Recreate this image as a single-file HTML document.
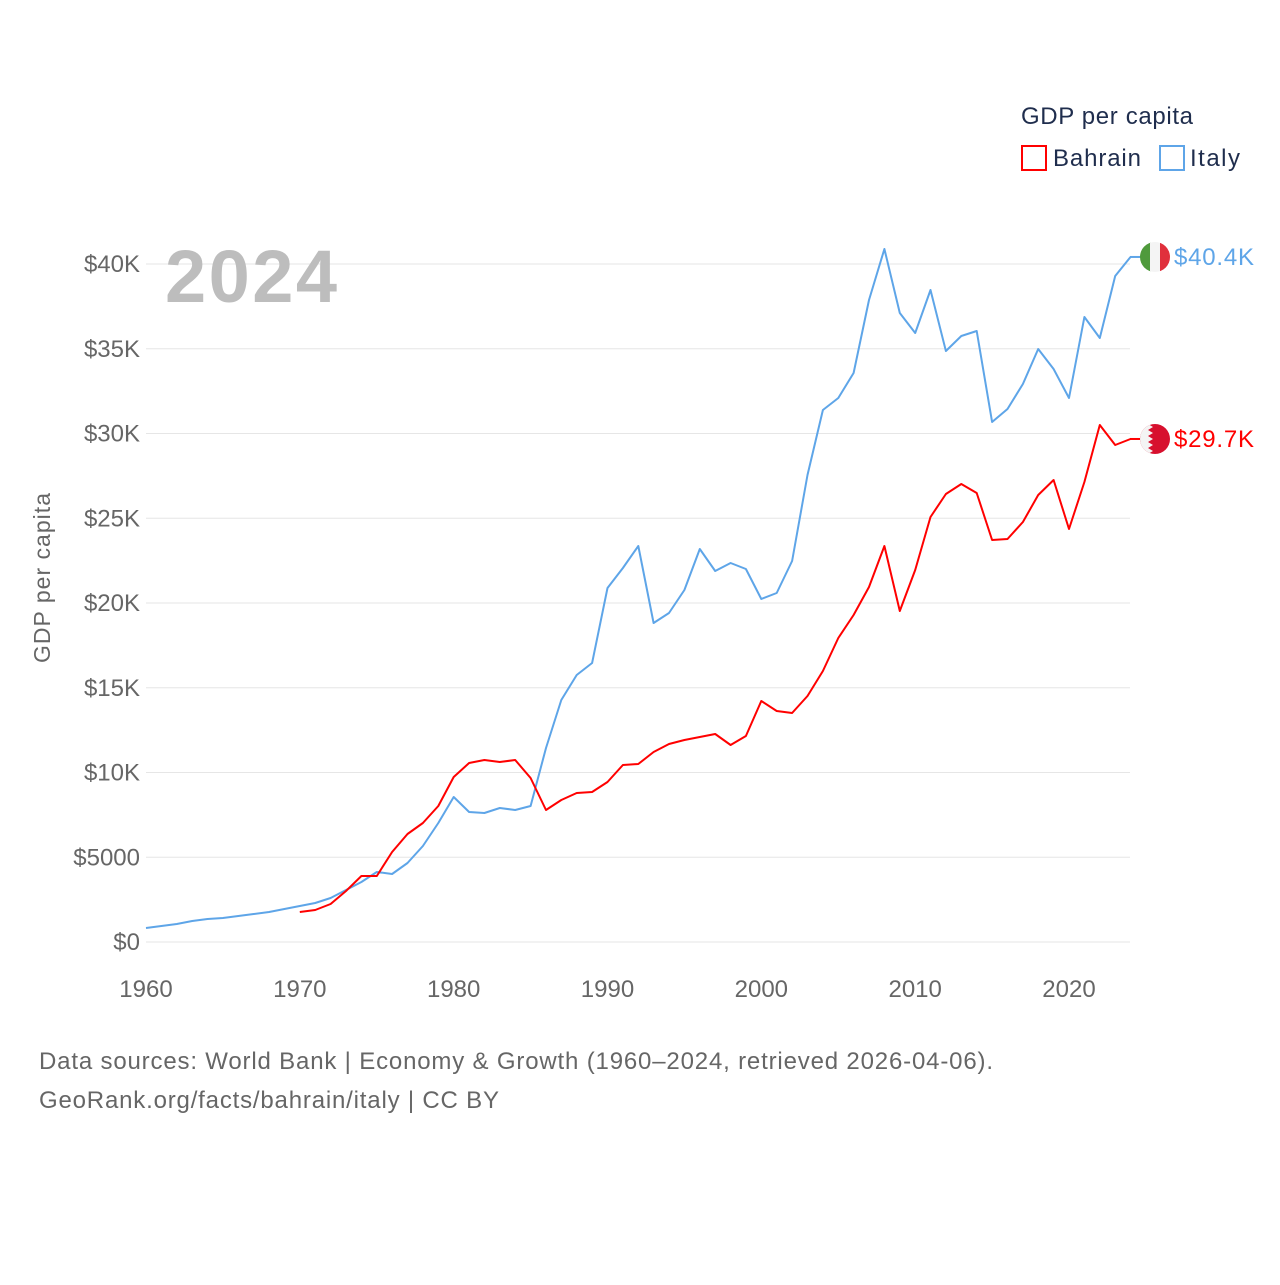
<!DOCTYPE html>
<html><head><meta charset="utf-8">
<style>
body{margin:0;background:#fff;font-family:"Liberation Sans",sans-serif;}
#wrap{position:relative;width:1280px;height:1280px;}
</style></head>
<body>
<div id="wrap">
<svg id="chart" width="1280" height="1280"></svg>
</div>
<script>
const years = [];
for (let y = 1960; y <= 2024; y++) years.push(y);
const italyValues = [826,944,1062,1239,1357,1416,1534,1652,1770,1947,2124,2300,2596,3068,3540,4130,4012,4661,5664,7021,8555,7670,7611,7906,7788,8024,11446,14278,15753,16461,20886,22066,23364,18821,19411,20768,23187,21889,22361,22007,20237,20591,22479,27553,31388,32096,33571,37878,40887,37111,35931,38468,34869,35754,36049,30680,31447,32922,34987,33807,32096,36875,35636,39294,40415];
const bahrainStart = 1970;
const bahrainValues = [1770,1888,2242,3009,3894,3894,5310,6372,7021,8024,9735,10561,10738,10620,10738,9676,7788,8378,8791,8850,9440,10443,10502,11210,11682,11918,12095,12272,11623,12154,14219,13629,13511,14514,15989,17936,19293,20945,23364,19529,21948,25075,26432,27022,26491,23718,23777,24780,26373,27258,24367,27140,30503,29323,29677];
const yTicks = [0,5000,10000,15000,20000,25000,30000,35000,40000];
const yTickLabels = ["$0","$5000","$10K","$15K","$20K","$25K","$30K","$35K","$40K"];
const xTicks = [1960,1970,1980,1990,2000,2010,2020];

const NS = "http://www.w3.org/2000/svg";
const svg = document.getElementById('chart');
const xs = y => 146 + (y - 1960) * (923 / 60);
const ys = v => 942 - v * (678 / 40000);
function el(tag, attrs, text) {
  const e = document.createElementNS(NS, tag);
  for (const k in attrs) e.setAttribute(k, attrs[k]);
  if (text !== undefined) e.textContent = text;
  svg.appendChild(e);
  return e;
}
yTicks.forEach((v, i) => {
  const g = el('line', {x1:146, x2:1130, y1:ys(v), y2:ys(v), stroke:'#e6e6e6', 'stroke-width':1});
  
  
  const t = el('text', {x:140, y:ys(v)+8, 'text-anchor':'end', 'font-size':24, fill:'#666'}, yTickLabels[i]);
  
  
});
xTicks.forEach(y => {
  const t = el('text', {x:xs(y), y:997, 'text-anchor':'middle', 'font-size':24, fill:'#666'}, String(y));
  
  
});
const yt = el('text', {x:0, y:0, transform:'translate(50,578) rotate(-90)', 'text-anchor':'middle', 'font-size':23, fill:'#666', textLength:170}, 'GDP per capita');


const yr = el('text', {x:165, y:302, 'font-size':74, 'font-weight':'bold', fill:'#bdbdbd', textLength:172}, '2024');



const itPts = italyValues.map((v, i) => xs(years[i]).toFixed(1) + ',' + ys(v).toFixed(1)).join(' ');
const itLine = el('polyline', {points:itPts, fill:'none', stroke:'#5ea5e8', 'stroke-width':2, 'stroke-linejoin':'round'});


const bhPts = bahrainValues.map((v, i) => xs(bahrainStart + i).toFixed(1) + ',' + ys(v).toFixed(1)).join(' ');
const bhLine = el('polyline', {points:bhPts, fill:'none', stroke:'#f00', 'stroke-width':2, 'stroke-linejoin':'round'});



const itY = ys(italyValues[italyValues.length-1]);
const bhY = ys(bahrainValues[bahrainValues.length-1]);
el('line', {x1:1130, x2:1145, y1:itY, y2:itY, stroke:'#5ea5e8', 'stroke-width':2});
el('line', {x1:1130, x2:1145, y1:bhY, y2:bhY, stroke:'#f00', 'stroke-width':2});
const defs = el('defs', {});
const cp1 = document.createElementNS(NS, 'clipPath'); cp1.setAttribute('id','c1');
const c1 = document.createElementNS(NS, 'circle'); c1.setAttribute('cx',1155); c1.setAttribute('cy',itY); c1.setAttribute('r',15);
cp1.appendChild(c1); defs.appendChild(cp1);
const cp2 = document.createElementNS(NS, 'clipPath'); cp2.setAttribute('id','c2');
const c2 = document.createElementNS(NS, 'circle'); c2.setAttribute('cx',1155); c2.setAttribute('cy',bhY); c2.setAttribute('r',15);
cp2.appendChild(c2); defs.appendChild(cp2);
const itFlag = el('g', {'clip-path':'url(#c1)'});


[['#4f9a3c',1140],['#f4f4f4',1150],['#e0303c',1160]].forEach(([c,x]) => {
  const r = document.createElementNS(NS,'rect'); r.setAttribute('x',x); r.setAttribute('y',itY-15); r.setAttribute('width',10.5); r.setAttribute('height',30); r.setAttribute('fill',c); itFlag.appendChild(r);
});
const bhFlag = el('g', {'clip-path':'url(#c2)'});


const br = document.createElementNS(NS,'rect'); br.setAttribute('x',1140); br.setAttribute('y',bhY-15); br.setAttribute('width',30); br.setAttribute('height',30); br.setAttribute('fill','#d7102e'); bhFlag.appendChild(br);
let zz = `M1140,${bhY-15} L1148,${bhY-15}`;
for (let k=0;k<5;k++){ const y0=bhY-15+k*6; zz += ` L1153,${y0+3} L1148,${y0+6}`; }
zz += ` L1140,${bhY+15} Z`;
const bw = document.createElementNS(NS,'path'); bw.setAttribute('d',zz); bw.setAttribute('fill','#f4f4f4'); bhFlag.appendChild(bw);

const itL = el('text', {x:1174, y:itY+8, 'font-size':24, fill:'#5ea5e8', textLength:80}, '$40.4K');


const bhL = el('text', {x:1174, y:bhY+8, 'font-size':24, fill:'#f00', textLength:80}, '$29.7K');



const lt = el('text', {x:1021, y:124, 'font-size':24, fill:'#1f2d4d', textLength:172}, 'GDP per capita');


const lb = el('rect', {x:1022, y:146, width:24, height:24, fill:'none', stroke:'#f00', 'stroke-width':2});


const lbt = el('text', {x:1053, y:166, 'font-size':24, fill:'#1f2d4d', textLength:88}, 'Bahrain');


const li = el('rect', {x:1160, y:146, width:24, height:24, fill:'none', stroke:'#5ea5e8', 'stroke-width':2});


const lit = el('text', {x:1190, y:166, 'font-size':24, fill:'#1f2d4d', textLength:50}, 'Italy');



const s1 = el('text', {x:39, y:1069, 'font-size':24, fill:'#666', textLength:954}, 'Data sources: World Bank | Economy & Growth (1960–2024, retrieved 2026-04-06).');


const s2 = el('text', {x:39, y:1108, 'font-size':24, fill:'#666', textLength:460}, 'GeoRank.org/facts/bahrain/italy | CC BY');


</script>
</body></html>
